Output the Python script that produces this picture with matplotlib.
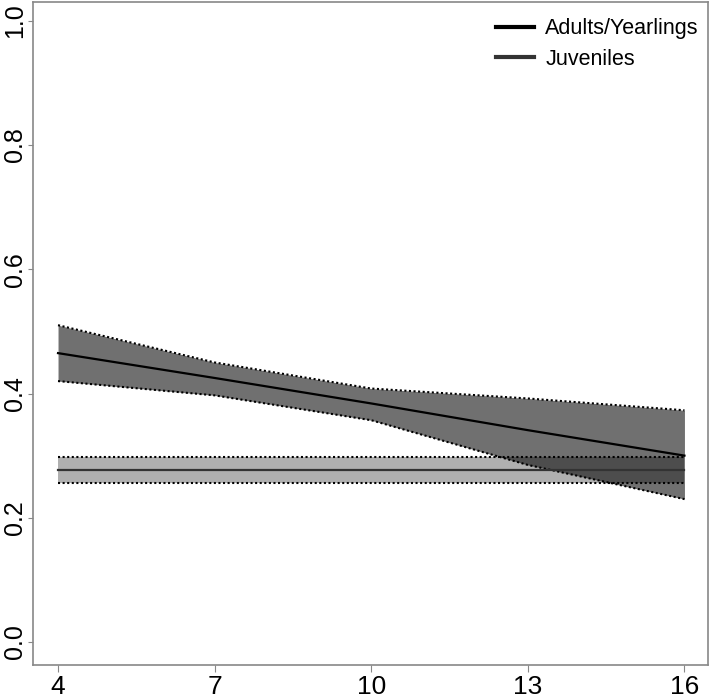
import numpy as np
import matplotlib.pyplot as plt
from matplotlib.lines import Line2D

plt.rcParams['font.family'] = ['Liberation Sans', 'DejaVu Sans']

# valeurs
x = [4, 7, 10, 13, 16]
adultes_moy = [0.465, 0.425, 0.384, 0.341, 0.300]
adultes_haut = [0.510, 0.450, 0.408, 0.392, 0.373]
adultes_bas = [0.420, 0.397, 0.357, 0.285, 0.230]
juv_moy = [0.277, 0.277, 0.277, 0.277, 0.277]
juv_haut = [0.297, 0.297, 0.297, 0.297, 0.297]
juv_bas = [0.256, 0.256, 0.256, 0.256, 0.256]

fig = plt.figure(figsize=(7.09, 7.0), dpi=100)
ax = fig.add_axes([0.0465, 0.05, 0.952, 0.947])

# bandes de confiance
ax.fill_between(x, juv_bas, juv_haut, color='black', alpha=0.31, linewidth=0)
ax.fill_between(x, adultes_bas, adultes_haut, color='black', alpha=0.56, linewidth=0)
for bord in (juv_bas, juv_haut, adultes_bas, adultes_haut):
    ax.plot(x, bord, color='black', linestyle=(0, (1, 1.2)), linewidth=1.5)

ax.plot(x, juv_moy, color='#333333', linewidth=1.6)
ax.plot(x, adultes_moy, color='black', linewidth=1.6)

ax.set_xlim(3.52, 16.45)
ax.set_ylim(-0.037, 1.03)
ax.set_xticks([4, 7, 10, 13, 16])
ax.set_yticks([0.0, 0.2, 0.4, 0.6, 0.8, 1.0])
ax.set_yticklabels(['0.0', '0.2', '0.4', '0.6', '0.8', '1.0'], rotation=90, va='center')
ax.tick_params(axis='x', labelsize=19, length=5, color='#888888', pad=2)
ax.tick_params(axis='y', labelsize=18, length=3.5, color='#888888', pad=0.5)
for s in ax.spines.values():
    s.set_color('#888888')
    s.set_linewidth(1.2)

poignees = [Line2D([], [], color='black', linewidth=3),
            Line2D([], [], color='#333333', linewidth=3)]
ax.legend(poignees, ['Adults/Yearlings', 'Juveniles'], loc='upper right',
          bbox_to_anchor=(1.0105, 1.0),
          frameon=False, fontsize=15.5, handlelength=1.75, handletextpad=0.55,
          labelspacing=0.45, borderaxespad=0.35)

plt.savefig('out.png', dpi=100)
